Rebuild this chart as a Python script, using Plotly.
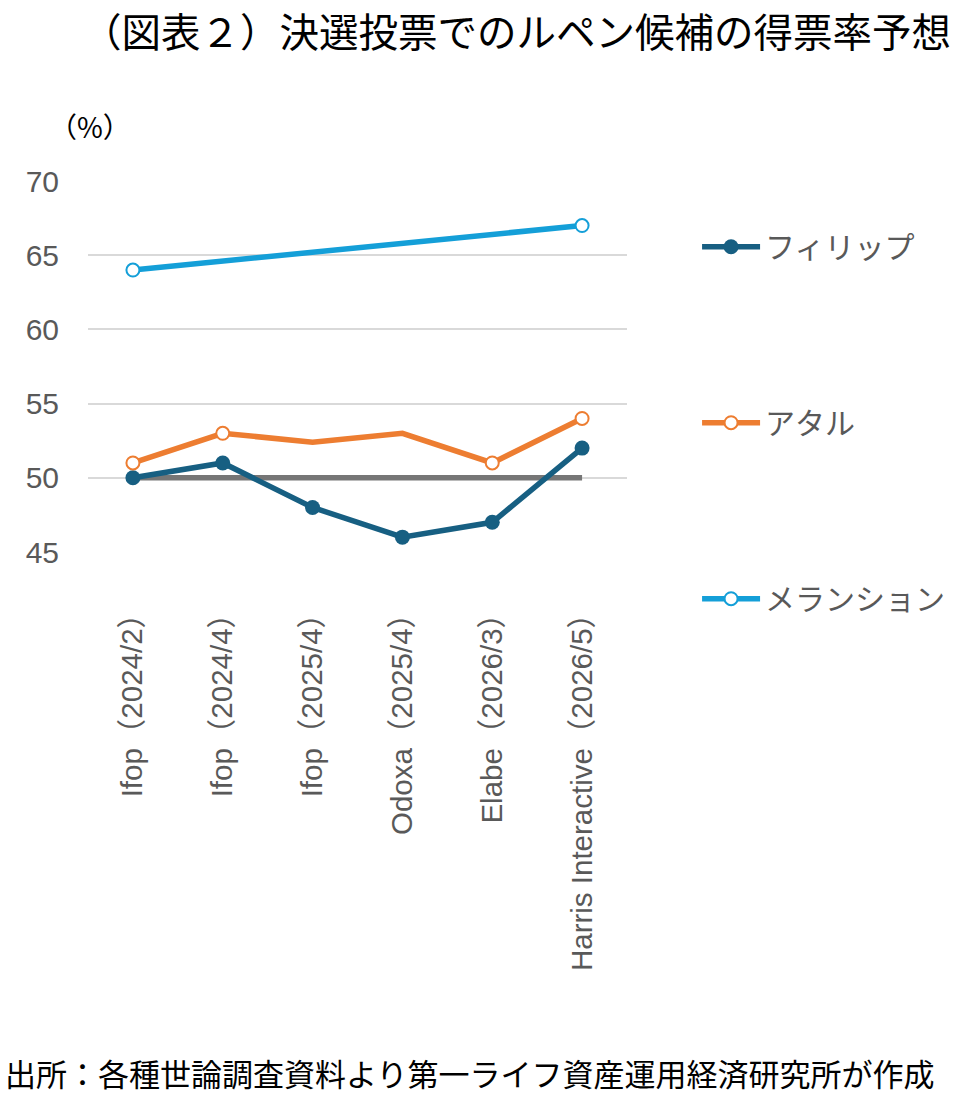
import plotly.graph_objects as go

categories = ["Ifop（2024/2）", "Ifop（2024/4）", "Ifop（2025/4）",
              "Odoxa（2025/4）", "Elabe（2026/3）", "Harris Interactive（2026/5）"]
philippe = [50, 51, 48, 46, 47, 52]
attal = [51, 53, 52.4, 53, 51, 54]
attal_has_marker = [True, True, False, False, True, True]
melenchon = [64, None, None, None, None, 67]
baseline = [50, 50, 50, 50, 50, 50]
y_ticks = [45, 50, 55, 60, 65, 70]

FONT = "Noto Sans CJK JP"
TICKFONT = "Liberation Sans, Noto Sans CJK JP"
C_PHI = "#175f82"
C_ATT = "#ed7d31"
C_MEL = "#149fd8"
C_BASE = "#767676"
TXT = "#595959"
CLEAR = "rgba(0,0,0,0)"

fig = go.Figure()
fig.add_trace(go.Scatter(
    x=categories, y=baseline, mode="lines", showlegend=False,
    line=dict(color=C_BASE, width=5.5), hoverinfo="skip"))
fig.add_trace(go.Scatter(
    x=categories, y=philippe, mode="lines+markers", name="フィリップ",
    legendgroup="a",
    line=dict(color=C_PHI, width=5.5),
    marker=dict(symbol="circle", size=15, color=C_PHI, line=dict(width=0))))
fig.add_trace(go.Scatter(
    x=categories, y=attal, mode="lines+markers", name="アタル",
    legendgroup="b",
    line=dict(color=C_ATT, width=5.5),
    marker=dict(symbol="circle", size=13,
                color=["white" if m else CLEAR for m in attal_has_marker],
                line=dict(color=[C_ATT if m else CLEAR for m in attal_has_marker],
                          width=2))))
fig.add_trace(go.Scatter(
    x=categories, y=melenchon, mode="lines+markers", name="メランション",
    legendgroup="c", connectgaps=True,
    line=dict(color=C_MEL, width=5.5),
    marker=dict(symbol="circle", size=13, color="white",
                line=dict(color=C_MEL, width=2))))

fig.update_layout(
    width=958, height=1095,
    margin=dict(l=88, r=331, t=181, b=543, autoexpand=False),
    paper_bgcolor="white", plot_bgcolor="white",
    font=dict(family=FONT, color=TXT),
    showlegend=True,
    legend=dict(
        x=1.13, xanchor="left", y=0.893, yanchor="top",
        font=dict(family=FONT, size=30, color=TXT),
        traceorder="grouped", tracegroupgap=134,
        bgcolor="rgba(0,0,0,0)", itemwidth=58, maxheight=700),
    xaxis=dict(
        type="category", range=[-0.5, 5.5],
        showgrid=False, zeroline=False, showline=False,
        tickangle=-90, ticks="", ticklabelstandoff=40,
        tickfont=dict(family=TICKFONT, size=29.5, color=TXT)),
    yaxis=dict(
        range=[45, 70], tickvals=y_ticks,
        showgrid=True, gridcolor="#d9d9d9", gridwidth=2,
        zeroline=False, showline=False, ticks="",
        ticklabelstandoff=28,
        tickfont=dict(family=TICKFONT, size=30, color=TXT)),
    annotations=[
        dict(text="（図表２）決選投票でのルペン候補の得票率予想",
             xref="paper", yref="paper", x=(80 - 88) / 539, xanchor="left",
             y=(552 - 30) / 371, yanchor="middle",
             showarrow=False,
             font=dict(family=FONT, size=39.5, color="#000000")),
        dict(text="（%）", xref="paper", yref="paper",
             x=(90 - 88) / 539, xanchor="center", y=(552 - 126) / 371, yanchor="middle",
             showarrow=False, font=dict(family=FONT, size=28, color="#000000")),
        dict(text="出所：各種世論調査資料より第一ライフ資産運用経済研究所が作成",
             xref="paper", yref="paper", x=(3 - 88) / 539, xanchor="left",
             y=(552 - 1072) / 371, yanchor="middle", showarrow=False,
             font=dict(family=FONT, size=31, color="#000000")),
    ],
)

fig.write_html("out.html")
